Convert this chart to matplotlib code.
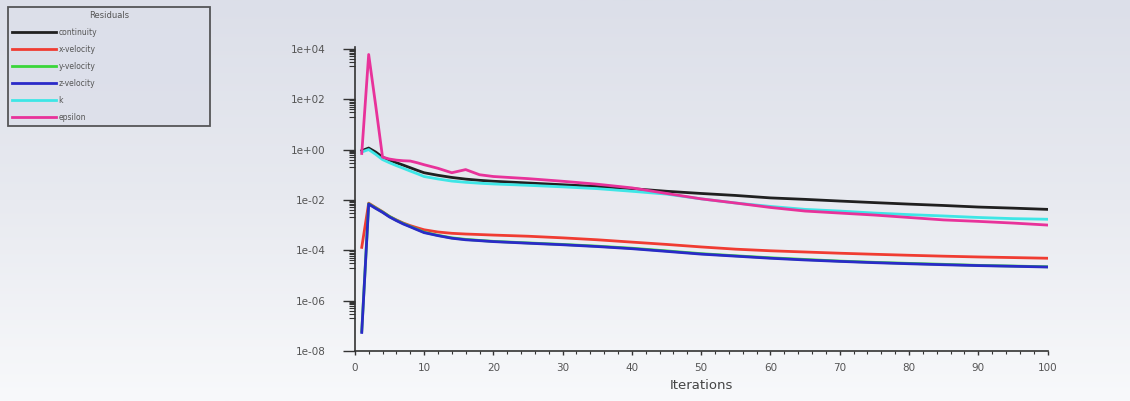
import numpy as np
import matplotlib
matplotlib.use("Agg")
import matplotlib.pyplot as plt
from matplotlib.ticker import NullFormatter, FixedLocator

# residual history
iterations = [1, 2, 3, 4, 5, 6, 7, 8, 9, 10, 12, 14, 16, 18, 20, 25, 30, 35, 40, 45,
              50, 55, 60, 65, 70, 75, 80, 85, 90, 95, 100]

continuity = [0.9, 1.15, 0.8, 0.5, 0.38, 0.3, 0.24, 0.19, 0.15, 0.12, 0.095, 0.078, 0.067,
              0.06, 0.055, 0.047, 0.04, 0.034, 0.028, 0.022, 0.018, 0.015, 0.012, 0.0105,
              0.009, 0.0078, 0.0068, 0.006, 0.0052, 0.0047, 0.0042]
x_velocity = [1.3e-4, 7.4e-3, 5e-3, 3.4e-3, 2.2e-3, 1.6e-3, 1.2e-3, 9.5e-4, 7.8e-4, 6.5e-4,
              5.3e-4, 4.7e-4, 4.4e-4, 4.2e-4, 4.0e-4, 3.6e-4, 3.1e-4, 2.6e-4, 2.1e-4, 1.7e-4,
              1.35e-4, 1.1e-4, 9.5e-5, 8.5e-5, 7.6e-5, 6.9e-5, 6.3e-5, 5.8e-5, 5.4e-5,
              5.1e-5, 4.8e-5]
y_velocity = [6e-8, 7e-3, 4.8e-3, 3.3e-3, 2.2e-3, 1.55e-3, 1.15e-3, 8.8e-4, 6.8e-4, 5.2e-4,
              3.9e-4, 3.1e-4, 2.7e-4, 2.45e-4, 2.25e-4, 1.95e-4, 1.7e-4, 1.45e-4, 1.2e-4,
              9.4e-5, 7.3e-5, 6e-5, 5e-5, 4.3e-5, 3.7e-5, 3.3e-5, 3e-5, 2.75e-5, 2.5e-5,
              2.35e-5, 2.2e-5]
z_velocity = [5.4e-8, 6.8e-3, 4.6e-3, 3.2e-3, 2.1e-3, 1.5e-3, 1.1e-3, 8.5e-4, 6.5e-4, 5.0e-4,
              3.8e-4, 3.0e-4, 2.6e-4, 2.4e-4, 2.2e-4, 1.9e-4, 1.65e-4, 1.4e-4, 1.15e-4, 9e-5,
              7e-5, 5.8e-5, 4.8e-5, 4.1e-5, 3.6e-5, 3.2e-5, 2.9e-5, 2.65e-5, 2.45e-5,
              2.3e-5, 2.15e-5]
k = [0.8, 1.0, 0.65, 0.4, 0.3, 0.23, 0.18, 0.14, 0.11, 0.085, 0.068, 0.056, 0.05, 0.046,
     0.043, 0.038, 0.033, 0.028, 0.022, 0.017, 0.011, 0.0075, 0.0055, 0.0042, 0.0036,
     0.003, 0.0026, 0.0023, 0.002, 0.0018, 0.0017]
epsilon = [0.7, 6000, 60, 0.5, 0.42, 0.38, 0.36, 0.35, 0.3, 0.25, 0.18, 0.12, 0.16, 0.1,
           0.085, 0.07, 0.055, 0.042, 0.03, 0.018, 0.011, 0.0075, 0.005, 0.0036, 0.003,
           0.0025, 0.002, 0.0016, 0.0014, 0.0012, 0.001]

y_major = [1e-8, 1e-6, 1e-4, 1e-2, 1e0, 1e2, 1e4]

series = [
    ("continuity", continuity, "#202020"),
    ("x-velocity", x_velocity, "#f03c32"),
    ("y-velocity", y_velocity, "#3ad63a"),
    ("z-velocity", z_velocity, "#2a2ac8"),
    ("k", k, "#3ee6e6"),
    ("epsilon", epsilon, "#e8329a"),
]

fig = plt.figure(figsize=(11.3, 4.01), dpi=100)

# gradient background like the Fluent window
bg = fig.add_axes([0, 0, 1, 1], zorder=-10)
grad = np.linspace(0, 1, 256).reshape(-1, 1)
bg.imshow(grad, aspect="auto", cmap=matplotlib.colors.LinearSegmentedColormap.from_list(
    "bg", ["#dcdfe9", "#e8eaf0", "#f8f9fb"]), extent=[0, 1, 0, 1])
bg.axis("off")

ax = fig.add_axes([0.314, 0.125, 0.613, 0.758])
ax.patch.set_alpha(0)
lines = []
for name, vals, col in series:
    ln, = ax.plot(iterations, vals, color=col, lw=2, label=name)
    lines.append(ln)

ax.set_yscale("log")
ax.set_ylim(1e-8, 1.2e4)
ax.set_xlim(0, 100)
ax.yaxis.set_major_locator(FixedLocator(y_major))
ax.yaxis.set_major_formatter(matplotlib.ticker.FuncFormatter(lambda v, p: "%.0e" % v))
# Fluent puts the minor ticks only in the decade below each labelled tick
minor = [m * v / 10 for v in y_major[1:] for m in range(2, 10)]
ax.yaxis.set_minor_locator(FixedLocator(minor))
ax.yaxis.set_minor_formatter(NullFormatter())
ax.xaxis.set_major_locator(FixedLocator(range(0, 101, 10)))
ax.xaxis.set_minor_locator(FixedLocator(range(0, 101, 2)))

for s in ("top", "right"):
    ax.spines[s].set_visible(False)
for s in ("left", "bottom"):
    ax.spines[s].set_color("#333333")
    ax.spines[s].set_linewidth(1.2)

ax.tick_params(axis="both", which="major", labelsize=7.5, colors="#333333",
               labelcolor="#555555", width=1)
ax.tick_params(axis="y", which="major", length=9, pad=12)
ax.tick_params(axis="x", which="major", length=3, pad=6)
ax.tick_params(axis="both", which="minor", length=4, width=0.8, colors="#333333")
ax.tick_params(axis="x", which="minor", length=2)
ax.set_xlabel("Iterations", fontsize=9.5, color="#444444", labelpad=4)

leg = fig.legend(handles=lines, loc="upper left",
                 bbox_to_anchor=(8 / 1130, 1 - 125 / 401, 202 / 1130, 118 / 401),
                 mode="expand", title="Residuals", fontsize=5.5, title_fontsize=6,
                 frameon=True, fancybox=False, handlelength=5.8, handletextpad=0.3,
                 labelspacing=1.05, borderaxespad=0, borderpad=0.5)
leg.get_frame().set_edgecolor("#333333")
leg.get_frame().set_linewidth(1.3)
leg.get_frame().set_facecolor("#dcdfea")
for t in leg.get_texts():
    t.set_color("#555555")
leg.get_title().set_color("#555555")

fig.savefig("out.png", dpi=100)
